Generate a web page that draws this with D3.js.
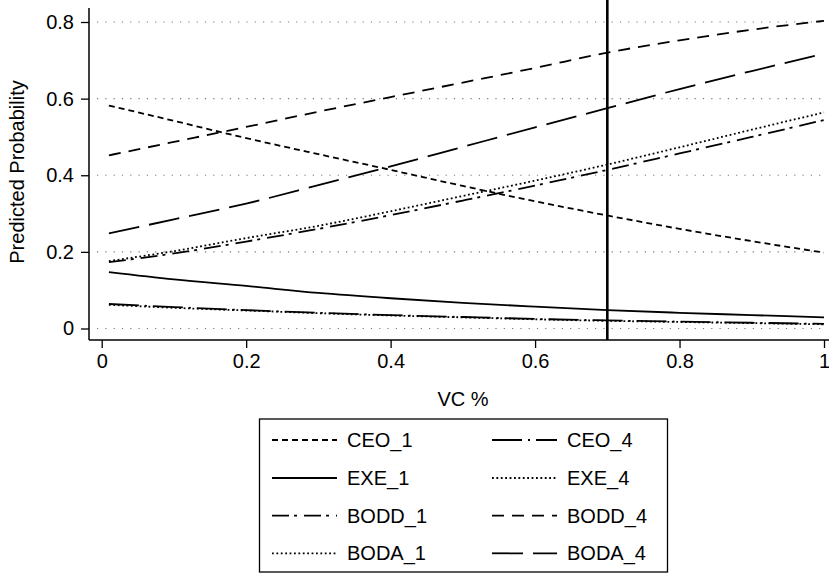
<!DOCTYPE html>
<html>
<head>
<meta charset="utf-8">
<script src="https://cdn.jsdelivr.net/npm/d3@7"></script>
<style>
  body { margin: 0; background: #fff; }
  svg { font-family: "Liberation Sans", Arial, sans-serif; }
</style>
</head>
<body>
<div id="chart"></div>
<script>

var vcShare = [0.01, 0.1, 0.2, 0.3, 0.4, 0.5, 0.6, 0.7, 0.8, 0.9, 1.0];

var ceo1  = [0.582, 0.542, 0.497, 0.455, 0.414, 0.372, 0.332, 0.295, 0.260, 0.228, 0.198];
var ceo4  = [0.064, 0.056, 0.048, 0.041, 0.035, 0.030, 0.025, 0.021, 0.018, 0.015, 0.012];
var exe1  = [0.147, 0.128, 0.111, 0.093, 0.079, 0.067, 0.057, 0.048, 0.041, 0.035, 0.029];
var exe4  = [0.062, 0.054, 0.047, 0.040, 0.034, 0.029, 0.024, 0.020, 0.017, 0.014, 0.011];
var bodd1 = [0.173, 0.196, 0.227, 0.260, 0.296, 0.334, 0.373, 0.414, 0.457, 0.500, 0.544];
var bodd4 = [0.452, 0.487, 0.526, 0.566, 0.604, 0.642, 0.680, 0.720, 0.752, 0.780, 0.803];
var boda1 = [0.176, 0.202, 0.236, 0.268, 0.306, 0.346, 0.386, 0.428, 0.473, 0.519, 0.564];
var boda4 = [0.248, 0.285, 0.326, 0.374, 0.423, 0.474, 0.525, 0.575, 0.625, 0.672, 0.717];

var xTicks = [0, 0.2, 0.4, 0.6, 0.8, 1];
var yTicks = [0, 0.2, 0.4, 0.6, 0.8];
var refLine = 0.7;

// legend order is row by row, two columns
var series = [
  { label: "CEO_1",  values: ceo1,  dash: "6,4" },
  { label: "CEO_4",  values: ceo4,  dash: "30,6,2,6" },
  { label: "EXE_1",  values: exe1,  dash: null },
  { label: "EXE_4",  values: exe4,  dash: "1.8,2.6" },
  { label: "BODD_1", values: bodd1, dash: "17,5,3,7" },
  { label: "BODD_4", values: bodd4, dash: "12,8" },
  { label: "BODA_1", values: boda1, dash: "1.8,2.6" },
  { label: "BODA_4", values: boda4, dash: "31,10" }
];

var svg = d3.select("#chart").append("svg")
  .attr("width", 829)
  .attr("height", 574);

var x = d3.scaleLinear().domain([0, 1]).range([101.7, 824]);
var y = d3.scaleLinear().domain([0, 0.8]).range([328.5, 22]);

var axisLeft = 89, axisBottom = 340, plotTop = 8;

// dotted grid
svg.append("g").selectAll("line")
  .data(yTicks)
  .enter().append("line")
  .attr("x1", axisLeft + 8)
  .attr("x2", 826)
  .attr("y1", function(d) { return y(d); })
  .attr("y2", function(d) { return y(d); })
  .attr("stroke", "#777")
  .attr("stroke-width", 1.2)
  .attr("stroke-dasharray", "1.2,7.1");

// y axis
var yAxis = svg.append("g")
  .attr("transform", "translate(" + axisLeft + ",0)")
  .call(d3.axisLeft(y).tickValues(yTicks).tickSize(8).tickPadding(7)
    .tickFormat(function(d) { return d === 0 ? "0" : d3.format(".1f")(d); }));
yAxis.select(".domain").remove();
yAxis.append("line")
  .attr("x1", 0).attr("x2", 0)
  .attr("y1", plotTop).attr("y2", axisBottom)
  .attr("stroke", "#000").attr("stroke-width", 1.5);

// x axis
var xAxis = svg.append("g")
  .attr("transform", "translate(0," + axisBottom + ")")
  .call(d3.axisBottom(x).tickValues(xTicks).tickSize(8).tickPadding(6)
    .tickFormat(function(d) { return d === 0 || d === 1 ? String(d) : d3.format(".1f")(d); }));
xAxis.select(".domain").remove();
xAxis.append("line")
  .attr("x1", axisLeft).attr("x2", 829)
  .attr("y1", 0).attr("y2", 0)
  .attr("stroke", "#000").attr("stroke-width", 1.5);

svg.selectAll(".tick line").attr("stroke", "#000").attr("stroke-width", 1.3);
svg.selectAll(".tick text")
  .attr("fill", "#000")
  .style("font-size", "20px")
  .style("font-family", "Liberation Sans, Arial, sans-serif");

// axis titles
svg.append("text")
  .attr("x", 463)
  .attr("y", 406)
  .attr("text-anchor", "middle")
  .style("font-size", "20px")
  .text("VC %");

svg.append("text")
  .attr("transform", "translate(24,172) rotate(-90)")
  .attr("text-anchor", "middle")
  .style("font-size", "20px")
  .text("Predicted Probability");

// lines
var line = d3.line()
  .x(function(d, i) { return x(vcShare[i]); })
  .y(function(d) { return y(d); })
  .curve(d3.curveMonotoneX);

svg.append("g").selectAll("path")
  .data(series)
  .enter().append("path")
  .attr("d", function(d) { return line(d.values); })
  .attr("fill", "none")
  .attr("stroke", "#000")
  .attr("stroke-width", 1.8)
  .attr("stroke-dasharray", function(d) { return d.dash; });

// reference line at 0.7
svg.append("line")
  .attr("x1", x(refLine)).attr("x2", x(refLine))
  .attr("y1", 0).attr("y2", axisBottom)
  .attr("stroke", "#000")
  .attr("stroke-width", 2.6);

// legend
var legend = svg.append("g");
legend.append("rect")
  .attr("x", 259.5).attr("y", 419)
  .attr("width", 408).attr("height", 153)
  .attr("fill", "#fff")
  .attr("stroke", "#000")
  .attr("stroke-width", 1.3);

var colX = [272, 492];
var rowY = [440, 478, 515.7, 553.3];

var item = legend.selectAll(".item")
  .data(series)
  .enter().append("g")
  .attr("class", "item")
  .attr("transform", function(d, i) {
    return "translate(" + colX[i % 2] + "," + rowY[Math.floor(i / 2)] + ")";
  });

item.append("line")
  .attr("x1", 0).attr("x2", 65)
  .attr("y1", 0).attr("y2", 0)
  .attr("stroke", "#000")
  .attr("stroke-width", 1.8)
  .attr("stroke-dasharray", function(d) { return d.dash; });

item.append("text")
  .attr("x", 75)
  .attr("dy", "0.35em")
  .style("font-size", "20px")
  .text(function(d) { return d.label; });

</script>
</body>
</html>
